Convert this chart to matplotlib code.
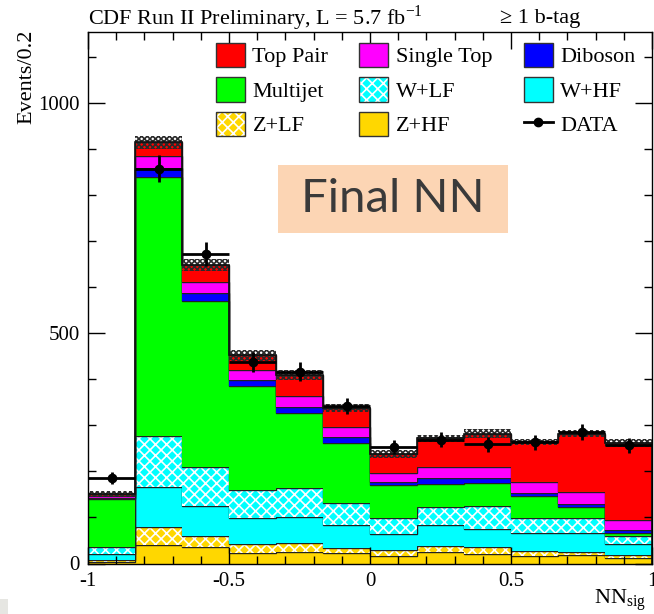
# Stacked NN output distribution, CDF style, with data points on top

import numpy as np
import matplotlib
matplotlib.use('Agg')
import matplotlib.pyplot as plt
import matplotlib.patches as mpatches
from matplotlib.lines import Line2D
from matplotlib.ticker import MultipleLocator

# bin edges of the NN output (12 bins from -1 to 1)
nn_edges = [-1, -5/6, -4/6, -3/6, -2/6, -1/6, 0, 1/6, 2/6, 3/6, 4/6, 5/6, 1]

# stacked backgrounds, bottom to top
z_hf = [3, 41, 36, 22, 25, 22, 16, 25, 20, 16, 18, 11]
z_lf = [5, 38, 23, 20, 20, 12, 13, 13, 16, 11, 7, 7]
w_hf = [13, 87, 66, 56, 55, 49, 36, 45, 40, 40, 42, 24]
w_lf = [14, 112, 85, 61, 63, 49, 33, 39, 48, 31, 31, 17]
multijet = [106, 562, 361, 227, 163, 130, 72, 50, 50, 48, 24, 8]
diboson = [1, 19, 17, 12, 14, 13, 7, 13, 11, 7, 8, 5]
single_top = [4, 26, 24, 22, 24, 22, 19, 25, 25, 24, 26, 23]
top_pair = [5, 30, 36, 33, 45, 41, 42, 62, 72, 87, 126, 167]

# systematic band on the total prediction
mc_unc = [6, 15, 13, 12, 11, 9, 8, 7, 10, 7, 8, 8]

# data
data = [185, 858, 672, 438, 417, 342, 253, 269, 259, 263, 286, 257]
data_err = [13, 29, 26, 21, 20, 18, 16, 16, 16, 16, 17, 16]

plt.rcParams['font.family'] = ['Liberation Serif', 'DejaVu Serif']
plt.rcParams['mathtext.fontset'] = 'custom'
plt.rcParams['mathtext.rm'] = 'Liberation Serif'
plt.rcParams['hatch.linewidth'] = 1.2

W, H = 654, 614
fig = plt.figure(figsize=(W / 100, H / 100), dpi=100)
ax = fig.add_axes([88 / W, 1 - 563.5 / H, (652 - 88) / W, (563.5 - 32) / H])

edges = np.array(nn_edges)
centers = (edges[:-1] + edges[1:]) / 2
half_w = (edges[1:] - edges[:-1]) / 2

# (values, face colour, hatch, label)
components = [
    (z_hf, '#FFD700', None, 'Z+HF'),
    (z_lf, '#FFD700', 'xxx', 'Z+LF'),
    (w_hf, '#00FFFF', None, 'W+HF'),
    (w_lf, '#00FFFF', 'xxx', 'W+LF'),
    (multijet, '#00FF00', None, 'Multijet'),
    (diboson, '#0000FF', None, 'Diboson'),
    (single_top, '#FF00FF', None, 'Single Top'),
    (top_pair, '#FF0000', None, 'Top Pair'),
]

handles = {}
bottom = np.zeros(len(data))
for vals, col, hatch, lab in components:
    top = bottom + np.array(vals)
    if hatch:
        ax.stairs(top, edges, baseline=bottom, fill=True, facecolor=col,
                  edgecolor='white', hatch=hatch, linewidth=0)
        h = (mpatches.Patch(facecolor=col, edgecolor='white', hatch=hatch, linewidth=0),
             mpatches.Patch(facecolor='none', edgecolor='#333333', linewidth=1.0))
    else:
        ax.stairs(top, edges, baseline=bottom, fill=True, facecolor=col, linewidth=0)
        h = mpatches.Patch(facecolor=col, edgecolor='#333333', linewidth=1.0)
    # black outline of every layer
    ax.stairs(top, edges, baseline=None, color='#222222', linewidth=1.0)
    handles[lab] = h
    bottom = top

total = bottom
unc = np.array(mc_unc)
ax.stairs(total + unc, edges, baseline=total - unc, fill=True, facecolor='none',
          edgecolor='#2a2a2a', hatch='xxxxxx', linewidth=0)
# outer silhouette with drops to zero
ax.stairs(total, edges, baseline=0, fill=False, color='#111111', linewidth=1.2)

ax.errorbar(centers, data, yerr=data_err, xerr=half_w, fmt='o', color='black',
            markersize=6, elinewidth=2, capsize=0)
handles['DATA'] = Line2D([], [], color='black', marker='o', markersize=6, linewidth=2)

ax.set_xlim(-1, 1)
ax.set_ylim(0, 1155)
ax.xaxis.set_major_locator(MultipleLocator(0.5))
ax.xaxis.set_minor_locator(MultipleLocator(0.1))
ax.yaxis.set_major_locator(MultipleLocator(500))
ax.yaxis.set_minor_locator(MultipleLocator(100))
ax.tick_params(which='both', direction='in', top=True, right=True, labelsize=15, width=1.0)
ax.tick_params(which='major', length=12, pad=6)
ax.tick_params(which='minor', length=6)
ax.set_xticks([-1, -0.5, 0, 0.5, 1], ['-1', '-0.5', '0', '0.5', '1'])
for s in ax.spines.values():
    s.set_linewidth(1.0)

order = ['Top Pair', 'Multijet', 'Z+LF', 'Single Top', 'W+LF', 'Z+HF', 'Diboson', 'W+HF', 'DATA']
ax.legend([handles[k] for k in order], order, ncol=3, frameon=False, fontsize=16,
          loc='upper left', bbox_to_anchor=(198 / W, 1 - 25 / H), bbox_transform=fig.transFigure,
          handlelength=1.3, handleheight=1.3, handletextpad=0.35, labelspacing=0.45,
          columnspacing=1.4, borderpad=0.3)

fig.text(88 / W, 1 - 18 / H, r'CDF Run II Preliminary, L = 5.7 fb$^{\mathrm{-1}}$',
         fontsize=16, ha='left', va='center')
fig.text(500 / W, 1 - 18 / H, '\u2265 1 b-tag', fontsize=16, ha='left', va='center')
fig.text(27 / W, 1 - 30 / H, 'Events/0.2', fontsize=16, rotation=90, ha='center', va='top')
fig.text(646 / W, 1 - 601 / H, r'NN$_{\mathrm{sig}}$', fontsize=16, ha='right', va='center')

# "Final NN" label box
fig.patches.append(mpatches.Rectangle((278 / W, 1 - 233 / H), 230 / W, 68 / H,
                                      transform=fig.transFigure, facecolor='#FCD5B4',
                                      edgecolor='none', zorder=5))
fig.text(393 / W, 1 - 199 / H, 'Final NN', fontsize=34, family='Lato', color='#3a3a3a',
         ha='center', va='center', zorder=6)

# small grey corner
fig.patches.append(mpatches.Rectangle((0, 0), 8 / W, 15 / H, transform=fig.transFigure,
                                      facecolor='#E6E6E2', edgecolor='none'))

fig.savefig('out.png', dpi=100)
